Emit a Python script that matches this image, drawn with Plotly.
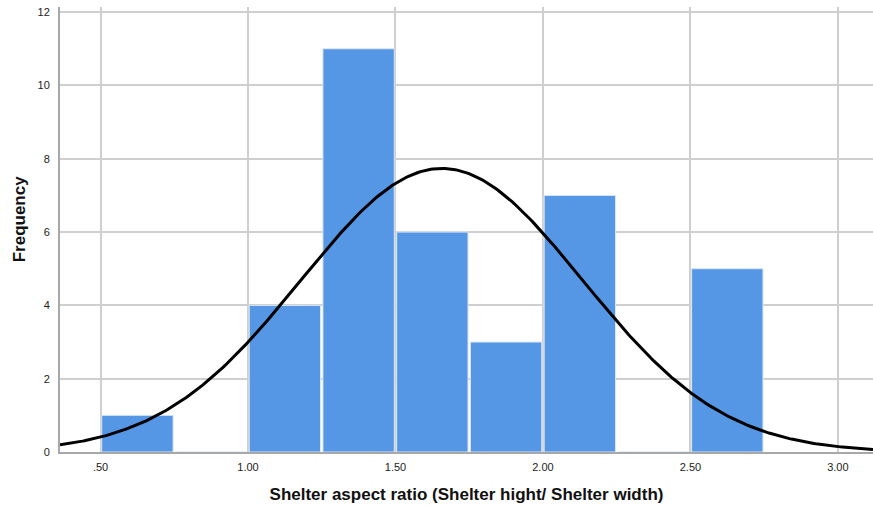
import numpy as np
import plotly.graph_objects as go

# Histogram bins (lower edge, width 0.25) and counts
bin_starts = [0.50, 0.75, 1.00, 1.25, 1.50, 1.75, 2.00, 2.25, 2.50]
counts = [1, 0, 4, 11, 6, 3, 7, 0, 5]
bin_width = 0.25

# Fitted normal curve parameters
n_obs = 37
mean_val = 1.657
std_val = 0.477

x_tick_vals = [0.5, 1.0, 1.5, 2.0, 2.5, 3.0]
x_tick_text = [".50", "1.00", "1.50", "2.00", "2.50", "3.00"]
y_tick_vals = [0, 2, 4, 6, 8, 10, 12]

x_range = [0.3626, 3.119]
y_range = [0, 12.14]

centers = [b + bin_width / 2 for b in bin_starts]

fig = go.Figure()
fig.add_trace(go.Bar(
    x=centers, y=counts, width=bin_width - 0.008,
    marker=dict(color="#5596E5", line=dict(color="#dbe7f8", width=1)),
    hoverinfo="x+y",
))

xs = np.linspace(x_range[0], x_range[1], 400)
ys = n_obs * bin_width / (std_val * np.sqrt(2 * np.pi)) * np.exp(-0.5 * ((xs - mean_val) / std_val) ** 2)
fig.add_trace(go.Scatter(x=xs, y=ys, mode="lines",
                         line=dict(color="black", width=3), hoverinfo="skip"))

font_family = "Liberation Sans, Arial, sans-serif"
fig.update_layout(
    width=873, height=508,
    margin=dict(l=60, r=0, t=7, b=56),
    plot_bgcolor="white", paper_bgcolor="white",
    showlegend=False,
    font=dict(family=font_family, size=11, color="#222"),
    xaxis=dict(
        range=x_range, tickvals=x_tick_vals, ticktext=x_tick_text,
        showgrid=True, gridcolor="#cfcfcf", gridwidth=1.5,
        showline=True, linecolor="#a8a8a8", linewidth=2,
        ticks="", zeroline=False, ticklabelstandoff=4,
        title=dict(text="<b>Shelter aspect ratio (Shelter hight/ Shelter width)</b>",
                   font=dict(size=17, color="#111"), standoff=16),
    ),
    yaxis=dict(
        range=y_range, tickvals=y_tick_vals,
        showgrid=True, gridcolor="#cfcfcf", gridwidth=1.5,
        showline=True, linecolor="#a8a8a8", linewidth=2,
        ticks="", zeroline=False, ticklabelstandoff=6,
    ),
)

# Y-axis title placed as a rotated annotation
fig.add_annotation(
    text="<b>Frequency</b>", textangle=-90,
    xref="paper", yref="paper", x=-0.0505, y=0.525,
    xanchor="center", yanchor="middle", showarrow=False,
    font=dict(size=17, color="#111", family=font_family),
)

fig.write_html("out.html")
